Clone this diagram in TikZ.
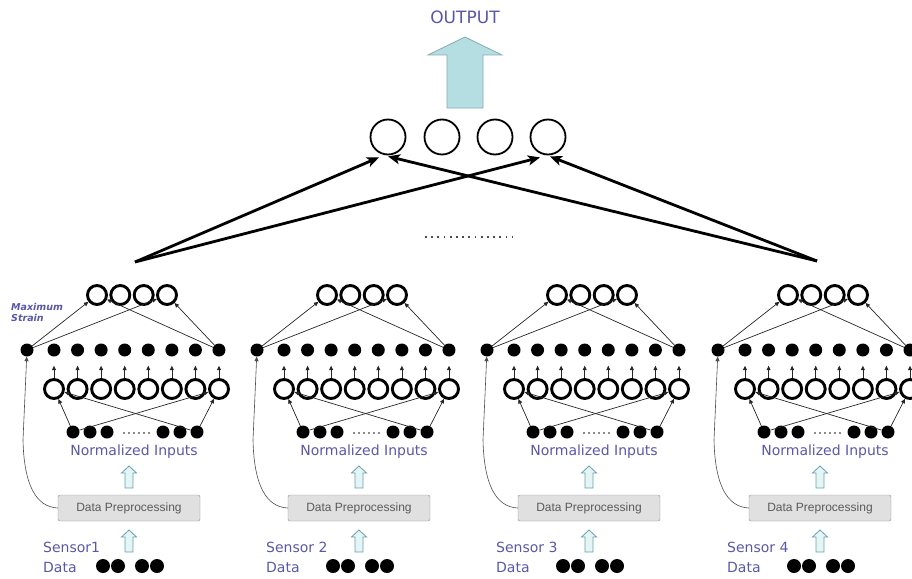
\documentclass[tikz,border=0pt]{standalone}
\usepackage{fontspec}
\setmainfont{Liberation Sans}
\newfontfamily\bluefont{DejaVu Sans}
\usetikzlibrary{arrows.meta}
\definecolor{lblblue}{RGB}{88,88,168}
\definecolor{boxfill}{RGB}{224,224,224}
\definecolor{boxdraw}{RGB}{140,140,140}
\definecolor{boxtext}{RGB}{90,90,90}
\definecolor{arrfill}{RGB}{228,245,246}
\definecolor{arrdraw}{RGB}{105,160,170}
\definecolor{outfill}{RGB}{180,222,226}
\definecolor{outdraw}{RGB}{135,170,175}
\begin{document}
\begin{tikzpicture}[x=1pt,y=-1pt,
 topcirc/.style={circle,draw,line width=1.8pt,minimum size=35pt,inner sep=0pt},
 ringnode/.style={circle,draw,line width=2.9pt,minimum size=19pt,inner sep=0pt},
 blackdot/.style={circle,fill,minimum size=13pt,inner sep=0pt},
 thinarrow/.style={line width=0.7pt,draw=black!85,-{Triangle[length=4.5pt,width=4pt]}},
 bigarrow/.style={line width=2.8pt,-{Stealth[length=12pt,width=10pt,inset=3pt]}},
 ppbox/.style={draw=boxdraw,fill=boxfill,rounded corners=2pt,minimum width=142pt,minimum height=26pt,inner sep=0pt,text=boxtext,font=\fontsize{12}{12}\selectfont},
 bluetext/.style={text=lblblue,font=\bluefont\fontsize{14}{15}\selectfont,inner sep=0pt},
 hollowup/.pic={\draw[draw=arrdraw,fill=arrfill,line width=0.8pt] (0,-11) -- (7.5,-4) -- (4,-4) -- (4,11) -- (-4,11) -- (-4,-4) -- (-7.5,-4) -- cycle;}
]
\useasboundingbox (0,0) rectangle (912,578);
\clip (0,0) rectangle (912,578);

% ---------- output layer ----------
\node[topcirc] (c1) at (388,137) {};
\node[topcirc] (c2) at (442,137) {};
\node[topcirc] (c3) at (495,137) {};
\node[topcirc] (c4) at (548,137) {};

\draw[draw=outdraw,fill=outfill,line width=0.8pt]
  (465,37) -- (502,55) -- (483,55) -- (483,108) -- (447,108) -- (447,55) -- (428,55) -- cycle;
\node[text=lblblue,font=\bluefont\fontsize{17}{18}\selectfont,inner sep=0pt] (out) at (465,17) {OUTPUT};

\coordinate (apexL) at (135,262);
\coordinate (apexR) at (817,261);
\draw[bigarrow] (apexL) -- ([xshift=-9pt,yshift=-2pt]c1.south);
\draw[bigarrow] (apexL) -- ([xshift=-8pt,yshift=-2pt]c4.south);
\draw[bigarrow] (apexR) -- ([xshift=0pt,yshift=-1pt]c1.south);
\draw[bigarrow] (apexR) -- ([xshift=2pt,yshift=-1pt]c4.south);

\coordinate (dotsL) at (425,237);
\coordinate (dotsR) at (512,237);
\draw[line width=1.8pt,black!70,dash pattern=on 1.8pt off 4.4pt] (dotsL) -- (dotsR);

\node[text=lblblue,font=\bluefont\itshape\bfseries\fontsize{9.5}{11}\selectfont,align=left,anchor=north west,inner sep=0pt] (maxs) at (11,303) {Maximum\\Strain};

% ---------- four sensor panels ----------
\foreach \p/\o/\s/\t in {1/0/43/Sensor1,2/230/266/Sensor 2,3/460/496/Sensor 3,4/691/727/Sensor 4}{
  \begin{scope}[xshift=\o pt]
    \foreach \i/\x in {1/97,2/120.3,3/143.7,4/167}
      \node[ringnode] (o\p-\i) at (\x,295) {};
    \node[blackdot] (m\p) at (27,350) {};
    \foreach \i in {1,...,8}{
      \node[blackdot] (d\p-\i) at ({54+(\i-1)*23.57},350) {};
      \node[ringnode] (h\p-\i) at ({54+(\i-1)*23.57},389) {};
      \draw[thinarrow,shorten >=9pt] (h\p-\i) -- (d\p-\i);
    }
    \draw[thinarrow] (m\p) -- (o\p-1);
    \draw[thinarrow] (m\p) -- (o\p-4);
    \draw[thinarrow] (d\p-8) -- (o\p-1);
    \draw[thinarrow] (d\p-8) -- (o\p-4);
    \foreach \i/\x in {1/73,2/90,3/107,4/163,5/180,6/197}
      \node[blackdot] (n\p-\i) at (\x,432) {};
    \coordinate (el\p) at (123,433);
    \coordinate (er\p) at (151,433);
    \draw[line width=1.2pt,black!45,dash pattern=on 2pt off 3pt] (el\p) -- (er\p);
    \draw[thinarrow] (n\p-1) -- (h\p-1);
    \draw[thinarrow] (n\p-1) -- (h\p-8);
    \draw[thinarrow] (n\p-6) -- (h\p-1);
    \draw[thinarrow] (n\p-6) -- (h\p-8);
    \node[bluetext] (ni\p) at (134,452) {Normalized Inputs};
    \pic at (129,477) {hollowup};
    \node[ppbox] (pp\p) at (129,508) {Data Preprocessing};
    \pic at (129,541) {hollowup};
    \foreach \i/\x in {1/103,2/118,3/142,4/157}
      \node[blackdot,minimum size=14pt] (s\p-\i) at (\x,566) {};
    \draw[thinarrow,line width=0.6pt,draw=black!70] (pp\p.west) .. controls (36,507) and (24,485) .. (23,440) -- (m\p);
  \end{scope}
  \node[bluetext,anchor=west] (sn\p) at (\s,547) {\t};
  \node[bluetext,anchor=west] (da\p) at (\s,567) {Data};
}
\end{tikzpicture}
\end{document}
